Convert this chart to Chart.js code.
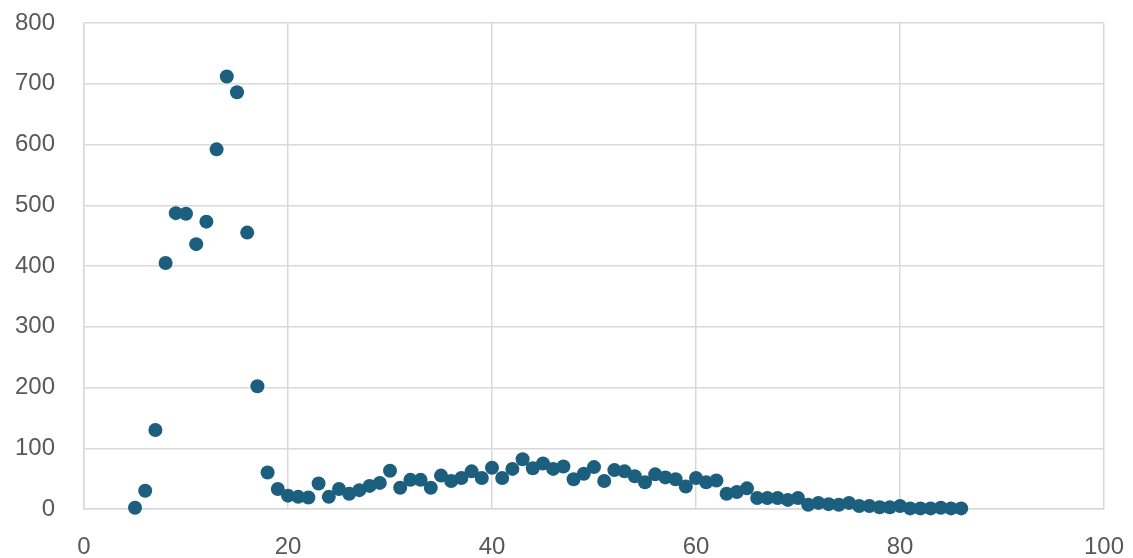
<!DOCTYPE html>
<html>
<head>
<meta charset="utf-8">
<script src="https://cdn.jsdelivr.net/npm/chart.js@4/dist/chart.umd.min.js"></script>
<style>
  html, body { margin: 0; padding: 0; background: #fff; }
  #wrap { width: 1133px; height: 558px; }
</style>
</head>
<body>
<div id="wrap"><canvas id="scatterChart"></canvas></div>
<script>
// x values run 5..86, one point each
const xValues = [5, 6, 7, 8, 9, 10, 11, 12, 13, 14, 15, 16, 17, 18, 19, 20,
  21, 22, 23, 24, 25, 26, 27, 28, 29, 30, 31, 32, 33, 34, 35, 36, 37, 38, 39, 40,
  41, 42, 43, 44, 45, 46, 47, 48, 49, 50, 51, 52, 53, 54, 55, 56, 57, 58, 59, 60,
  61, 62, 63, 64, 65, 66, 67, 68, 69, 70, 71, 72, 73, 74, 75, 76, 77, 78, 79, 80,
  81, 82, 83, 84, 85, 86];
const yValues = [2, 30, 130, 405, 487, 486, 436, 473, 592, 712, 686, 455, 202, 60, 33, 22,
  20, 19, 42, 20, 33, 25, 31, 38, 43, 63, 35, 48, 48, 35, 55, 46, 51, 62, 51, 68,
  51, 66, 82, 67, 75, 66, 70, 49, 58, 69, 46, 64, 62, 54, 44, 57, 52, 49, 37, 51,
  44, 47, 25, 28, 34, 18, 18, 18, 15, 18, 7, 10, 8, 7, 10, 5, 5, 3, 3, 5,
  1, 1, 1, 2, 1, 1];

const xMin = 0, xMax = 100, xStep = 20;
const yMin = 0, yMax = 800, yStep = 100;

const points = xValues.map((x, i) => ({ x: x, y: yValues[i] }));

const tickFont = { family: 'Liberation Sans, Arial, sans-serif', size: 24 };
const gridColor = '#d9d9d9';

new Chart(document.getElementById('scatterChart').getContext('2d'), {
    type: 'scatter',
    data: {
        datasets: [{
            data: points,
            backgroundColor: '#1b5e7e',
            borderColor: '#1b5e7e',
            pointRadius: 7,
            pointHoverRadius: 7,
            borderWidth: 0,
            clip: false
        }]
    },
    options: {
        responsive: true,
        maintainAspectRatio: false,
        animation: false,
        layout: { padding: { top: 23, right: 29, left: 0, bottom: 0 } },
        plugins: {
            legend: { display: false },
            tooltip: { enabled: false }
        },
        scales: {
            x: {
                type: 'linear',
                min: xMin,
                max: xMax,
                ticks: { stepSize: xStep, color: '#595959', font: tickFont, padding: 24 },
                grid: { color: gridColor, lineWidth: 1.5, drawTicks: false },
                border: { color: gridColor, width: 1.5 },
                afterFit: (scale) => {
                    scale.height = 49;
                    scale.paddingLeft = 0;
                    scale.paddingRight = 0;
                }
            },
            y: {
                min: yMin,
                max: yMax,
                ticks: { stepSize: yStep, color: '#595959', font: tickFont, padding: 29 },
                grid: { color: gridColor, lineWidth: 1.5, drawTicks: false },
                border: { color: gridColor, width: 1.5 },
                afterFit: (scale) => {
                    scale.width = 84;
                    scale.paddingTop = 0;
                    scale.paddingBottom = 0;
                }
            }
        }
    }
});
</script>
</body>
</html>
